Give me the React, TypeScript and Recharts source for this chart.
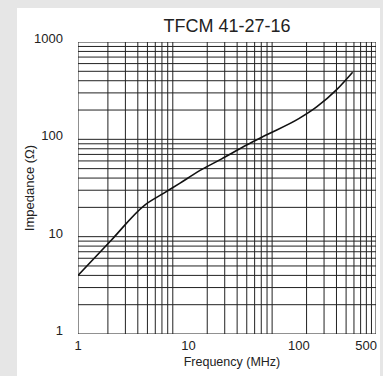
import { LineChart, Line, XAxis, YAxis } from 'recharts';

// impedance curve
const frequency = [1, 2, 4, 6, 8.4, 12, 20, 34, 50, 100, 145, 220, 307];
const impedance = [4.0, 9.2, 21, 28, 35.5, 46, 63, 88, 110, 163, 215, 324, 490];

// labelled ticks
const freqTicks = [1, 10, 100, 500];
const impTicks = [1, 10, 100, 1000];

// log grid lines
const gridFreq = [1, 2, 3, 4, 5, 6, 7, 8, 9, 20, 30, 40, 50, 60, 70, 80, 90, 200, 300, 400, 500, 600, 700, 800, 900, 1000];
const gridImp = [1, 2, 3, 4, 5, 6, 7, 8, 9, 10, 20, 30, 40, 50, 60, 70, 80, 90, 100, 200, 300, 400, 500, 600, 700, 800, 900, 1000];
const gridMin = 1;
const gridMax = 1000;

const data = frequency.map((f, i) => ({ f, z: impedance[i] }));

const font = "'Liberation Sans', Arial, sans-serif";
const textColor = '#222';
const gridColor = '#222';

const FreqTick = (props: any) => {
  const { x, y, payload, index } = props;
  const last = index === freqTicks.length - 1;
  return (
    <text
      x={last ? x + 1 : x}
      y={y}
      dy={12}
      textAnchor={last ? 'end' : 'middle'}
      fontSize={13}
      fontFamily={font}
      fill={textColor}
    >
      {payload.value}
    </text>
  );
};

const ImpTick = (props: any) => {
  const { x, y, payload } = props;
  return (
    <text x={x} y={y} dy={1} textAnchor="end" fontSize={13} fontFamily={font} fill={textColor}>
      {payload.value}
    </text>
  );
};

const App = () => {
  return (
    <div style={{ position: 'fixed', left: 0, top: 0, width: 383, height: 376, background: '#e6e6e6' }}>
      <div style={{ position: 'absolute', left: 17, top: 8, width: 363, height: 368, background: '#fff' }} />
      <div
        style={{
          position: 'absolute',
          left: 127,
          top: 17,
          width: 200,
          textAlign: 'center',
          fontFamily: font,
          fontSize: 18,
          lineHeight: '18px',
          color: textColor,
        }}
      >
        TFCM 41-27-16
      </div>
      <div style={{ position: 'absolute', left: 0, top: 0 }}>
        <LineChart width={383} height={376} data={data} margin={{ top: 42, right: 7, bottom: 0, left: 18 }}>
          <XAxis
            xAxisId="grid"
            dataKey="gx"
            orientation="top"
            type="number"
            scale="log"
            domain={[gridMin, gridMax]}
            height={0}
            tick={false}
            axisLine={false}
            tickLine={false}
            allowDataOverflow
          />
          <YAxis
            yAxisId="grid"
            orientation="right"
            type="number"
            scale="log"
            domain={[gridMin, gridMax]}
            width={0}
            tick={false}
            axisLine={false}
            tickLine={false}
            allowDataOverflow
          />
          {gridFreq.map((v) => (
            <Line
              key={`gx-${v}`}
              xAxisId="grid"
              yAxisId="grid"
              data={[{ gx: v, gy: gridMin }, { gx: v, gy: gridMax }]}
              dataKey="gy"
              type="linear"
              stroke={gridColor}
              strokeWidth={1}
              dot={false}
              activeDot={false}
              isAnimationActive={false}
            />
          ))}
          {gridImp.map((v) => (
            <Line
              key={`gy-${v}`}
              xAxisId="grid"
              yAxisId="grid"
              data={[{ gx: gridMin, gy: v }, { gx: gridMax, gy: v }]}
              dataKey="gy"
              type="linear"
              stroke={gridColor}
              strokeWidth={1}
              dot={false}
              activeDot={false}
              isAnimationActive={false}
            />
          ))}
          <XAxis
            xAxisId="f"
            dataKey="f"
            type="number"
            scale="log"
            domain={[1, 500]}
            ticks={freqTicks}
            interval={0}
            height={42}
            axisLine={false}
            tickLine={false}
            tickSize={0}
            tickMargin={4}
            tick={<FreqTick />}
            allowDataOverflow
            label={{
              value: 'Frequency (MHz)',
              position: 'insideBottom',
              offset: 10,
              dx: 5,
              style: { fontSize: 12.5, fontFamily: font, fill: textColor },
            }}
          />
          <YAxis
            yAxisId="z"
            type="number"
            scale="log"
            domain={[1, 1000]}
            ticks={impTicks}
            interval={0}
            width={60}
            axisLine={false}
            tickLine={false}
            tickSize={0}
            tickMargin={15}
            tick={<ImpTick />}
            allowDataOverflow
            label={{
              value: 'Impedance (Ω)',
              angle: -90,
              position: 'insideLeft',
              offset: 11,
              style: { textAnchor: 'middle', fontSize: 13, fontFamily: font, fill: textColor },
            }}
          />
          <Line
            xAxisId="f"
            yAxisId="z"
            dataKey="z"
            type="monotone"
            stroke="#111"
            strokeWidth={1.6}
            dot={false}
            isAnimationActive={false}
          />
        </LineChart>
      </div>
    </div>
  );
};

export default App;
